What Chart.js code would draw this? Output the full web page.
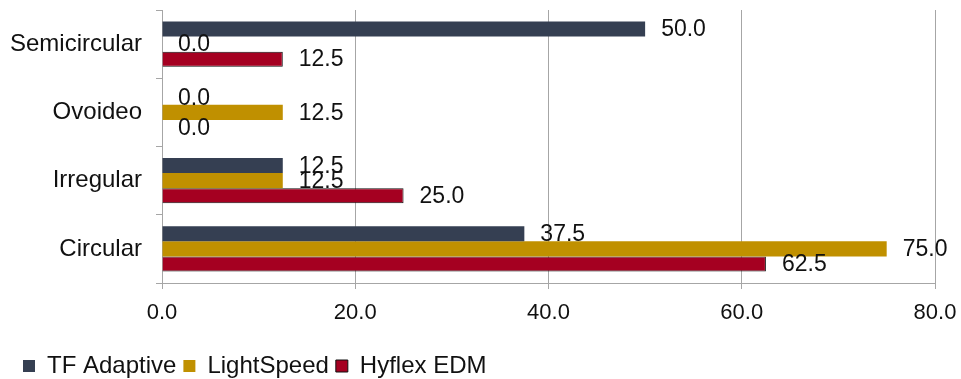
<!DOCTYPE html>
<html>
<head>
<meta charset="utf-8">
<script src="https://cdn.jsdelivr.net/npm/chart.js@4/dist/chart.umd.min.js"></script>
<style>
html,body{margin:0;padding:0;background:#fff;}
#wrap{width:961px;height:379px;position:relative;}
</style>
</head>
<body>
<div id="wrap"><canvas id="c" width="961" height="379"></canvas></div>
<script>
const categories = ["Semicircular", "Ovoideo", "Irregular", "Circular"];
const seriesNames = ["TF Adaptive", "LightSpeed", "Hyflex EDM"];
const tfAdaptive = [50.0, 0.0, 12.5, 37.5];
const lightSpeed = [0.0, 12.5, 12.5, 75.0];
const hyflexEDM = [12.5, 0.0, 25.0, 62.5];
const xTicks = [0, 20, 40, 60, 80];

const FONT = "'Liberation Sans', Arial, sans-serif";
const GRID = "#a6a6a6";

const labelPlugin = {
  id: 'valueLabels',
  afterDatasetsDraw(chart) {
    const ctx = chart.ctx;
    ctx.save();
    ctx.font = "23px " + FONT;
    ctx.fillStyle = "#111";
    ctx.textAlign = "left";
    ctx.textBaseline = "middle";
    chart.data.datasets.forEach((ds, i) => {
      const meta = chart.getDatasetMeta(i);
      meta.data.forEach((el, j) => {
        ctx.fillText(Number(ds.data[j]).toFixed(1), el.x + 16, el.y + 1);
      });
    });
    ctx.restore();
  }
};

const legendFitPlugin = {
  id: 'legendFit',
  afterInit(chart) {
    const lg = chart.legend;
    if (!lg) return;
    const orig = lg.fit.bind(lg);
    lg.fit = function () {
      orig();
      this.height = 32;
    };
  },
  beforeDraw(chart) {
    if (chart.legend) chart.legend.left = 16;
  }
};

new Chart(document.getElementById('c'), {
  type: 'bar',
  data: {
    labels: categories,
    datasets: [
      { label: seriesNames[0], data: tfAdaptive, backgroundColor: "#353f52", borderWidth: 0 },
      { label: seriesNames[1], data: lightSpeed, backgroundColor: "#c09000", borderWidth: 0 },
      { label: seriesNames[2], data: hyflexEDM, backgroundColor: "#a50021", borderColor: "#111", borderWidth: 1 }
    ]
  },
  options: {
    indexAxis: 'y',
    responsive: false,
    animation: false,
    layout: { padding: { top: 10, right: 26, left: 0, bottom: 0 } },
    datasets: { bar: { categoryPercentage: 0.66, barPercentage: 1.0 } },
    plugins: {
      legend: {
        position: 'bottom',
        align: 'start',
        labels: {
          font: { family: FONT, size: 24 },
          color: "#111",
          boxWidth: 12,
          boxHeight: 12,
          padding: 7
        }
      },
      tooltip: { enabled: false }
    },
    scales: {
      x: {
        min: 0, max: 80,
        afterBuildTicks(scale) { scale.ticks = xTicks.map(v => ({ value: v })); },
        afterFit(scale) { scale.height = 64; scale.paddingLeft = 0; scale.paddingRight = 0; },
        grid: { color: GRID, tickLength: 6, drawTicks: true },
        border: { color: GRID },
        ticks: {
          font: { family: FONT, size: 22 },
          color: "#111",
          padding: 11,
          callback: v => Number(v).toFixed(1)
        }
      },
      y: {
        afterFit(scale) { scale.width = 162; scale.paddingTop = 0; scale.paddingBottom = 0; },
        grid: { drawOnChartArea: false, color: GRID, tickLength: 6, offset: true },
        border: { color: GRID },
        ticks: {
          font: { family: FONT, size: 24 },
          color: "#111",
          padding: 14
        }
      }
    }
  },
  plugins: [labelPlugin, legendFitPlugin]
});
</script>
</body>
</html>
